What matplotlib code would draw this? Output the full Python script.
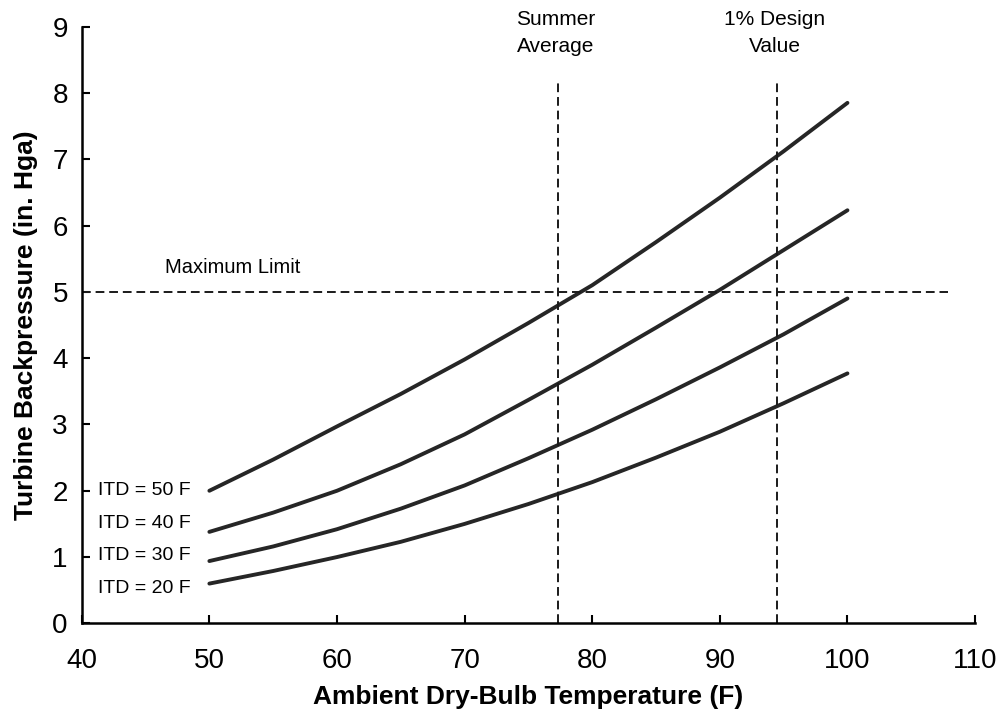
import matplotlib
matplotlib.use("Agg")
import matplotlib.pyplot as plt

# ambient temperature (F) and backpressure (in. Hga)
temps = [50, 55, 60, 65, 70, 75, 80, 85, 90, 95, 100]
itd50 = [2.0, 2.47, 2.97, 3.46, 3.98, 4.53, 5.1, 5.75, 6.42, 7.12, 7.85]
itd40 = [1.38, 1.67, 2.0, 2.4, 2.85, 3.37, 3.9, 4.46, 5.03, 5.63, 6.23]
itd30 = [0.94, 1.16, 1.42, 1.73, 2.08, 2.49, 2.92, 3.38, 3.86, 4.36, 4.9]
itd20 = [0.6, 0.79, 1.0, 1.23, 1.5, 1.8, 2.13, 2.5, 2.89, 3.32, 3.77]

curve_labels = ["ITD = 50 F", "ITD = 40 F", "ITD = 30 F", "ITD = 20 F"]
label_y = [2.0, 1.5, 1.03, 0.53]

max_limit = 5
summer_avg = 77.3
design_1pct = 94.5

xticks = [40, 50, 60, 70, 80, 90, 100, 110]
yticks = [0, 1, 2, 3, 4, 5, 6, 7, 8, 9]

plt.rcParams['font.family'] = ['Liberation Sans', 'DejaVu Sans']

fig = plt.figure(figsize=[9.97, 7.19], dpi=100)
ax = fig.add_axes([0.082, 0.133, 0.896, 0.83])

# curves
for ys in [itd50, itd40, itd30, itd20]:
    ax.plot(temps, ys, color='#262626', lw=2.8, solid_capstyle='round',
            solid_joinstyle='round')

# reference lines
ax.plot([40, 107.9], [max_limit, max_limit], color='#1a1a1a', lw=1.4,
        dashes=(4.5, 2.5))
ax.plot([summer_avg, summer_avg], [0, 8.15], color='#1a1a1a', lw=1.4,
        dashes=(4.5, 2.5))
ax.plot([design_1pct, design_1pct], [0, 8.15], color='#1a1a1a', lw=1.4,
        dashes=(4.5, 2.5))

# labelling
ax.text(46.5, 5.36, "Maximum Limit", fontsize=14.5, va='center', ha='left')
ax.text(77.1, 8.9, "Summer\nAverage", fontsize=15, va='center',
        ha='center', linespacing=1.55)
ax.text(94.3, 8.9, "1% Design\nValue", fontsize=15, va='center',
        ha='center', linespacing=1.55)
for lab, yy in zip(curve_labels, label_y):
    ax.text(41.25, yy, lab, fontsize=14, va='center', ha='left')

ax.set_xlim(40, 110)
ax.set_ylim(0, 9)
ax.set_xticks(xticks)
ax.set_yticks(yticks)
ax.spines['top'].set_visible(False)
ax.spines['right'].set_visible(False)
ax.spines['left'].set_linewidth(1.8)
ax.spines['bottom'].set_linewidth(1.8)
ax.tick_params(axis='both', direction='in', length=6, width=1.5,
               labelsize=20)
ax.tick_params(axis='x', pad=18)
ax.tick_params(axis='y', pad=10)

ax.set_xlabel("Ambient Dry-Bulb Temperature (F)", fontweight='bold',
              fontsize=19, labelpad=8)
ax.set_ylabel("Turbine Backpressure (in. Hga)", fontweight='bold',
              fontsize=19, labelpad=10)

plt.savefig("out.png", dpi=100)
